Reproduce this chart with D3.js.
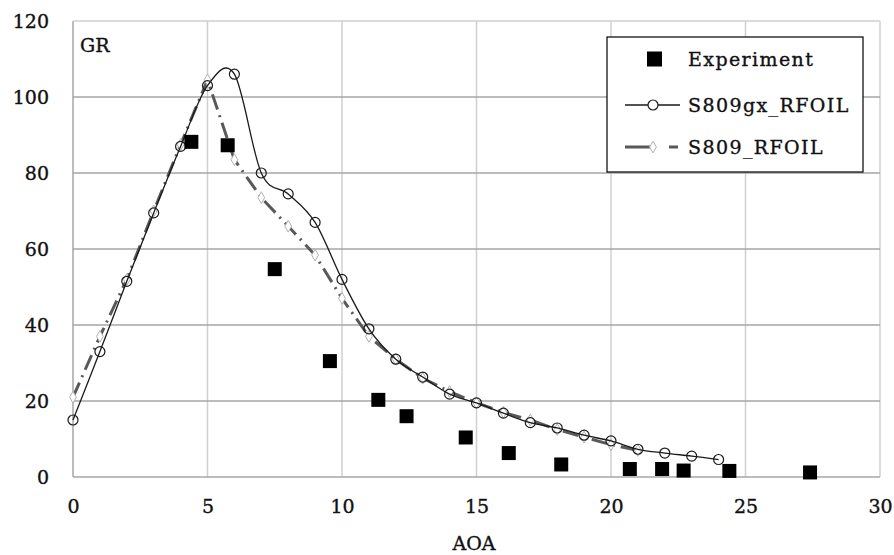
<!DOCTYPE html>
<html>
<head>
<meta charset="utf-8">
<script src="https://cdn.jsdelivr.net/npm/d3@7"></script>
<style>
  body { margin: 0; background: #fff; }
  svg text { font-family: "DejaVu Serif", serif; fill: #111; stroke: #111; stroke-width: 0.35px; }
</style>
</head>
<body>
<div id="chart"></div>
<script>
// data
var gxAoa = [0, 1, 2, 3, 4, 5, 6, 7, 8, 9, 10, 11, 12, 13, 14, 15, 16, 17, 18, 19, 20, 21, 22, 23, 24];
var gxGr = [15, 33, 51.5, 69.5, 87, 103, 106, 80, 74.5, 67, 52, 39, 31, 26.3, 21.8, 19.5, 16.8, 14.3, 12.9, 11, 9.5, 7.3, 6.3, 5.5, 4.6];

var rfAoa = [0, 1, 2, 3, 4, 5, 6, 7, 8, 9, 10, 11, 12, 13, 14, 15, 16, 17, 18, 19, 20, 21];
var rfGr = [21, 37, 52, 70, 87.5, 104.5, 83.5, 73.5, 66, 58.4, 47, 37, 31, 26, 22.5, 19.5, 17, 15, 12.5, 10.5, 8.5, 7];

var expAoa = [4.4, 5.75, 7.5, 9.55, 11.35, 12.4, 14.6, 16.2, 18.15, 20.7, 21.9, 22.7, 24.4, 27.4];
var expGr = [88.2, 87.3, 54.7, 30.5, 20.3, 16, 10.4, 6.3, 3.3, 2.1, 2.1, 1.7, 1.6, 1.2];

var xTicks = [0, 5, 10, 15, 20, 25, 30];
var yTicks = [0, 20, 40, 60, 80, 100, 120];

var legendNames = ["Experiment", "S809gx_RFOIL", "S809_RFOIL"];

var init = function() {
    var width = 894, height = 555;
    var margin = {top: 21, right: 14, bottom: 78, left: 73};

    var svg = d3.select("#chart").append("svg")
        .attr("width", width)
        .attr("height", height);

    var x = d3.scaleLinear().domain([0, 30]).range([margin.left, width - margin.right]);
    var y = d3.scaleLinear().domain([0, 120]).range([height - margin.bottom, margin.top]);

    // grid
    svg.append("g").selectAll("line").data(xTicks).enter().append("line")
        .attr("x1", d => x(d)).attr("x2", d => x(d))
        .attr("y1", y(0)).attr("y2", y(120))
        .attr("stroke", d => d === 0 ? "#a6a6a6" : "#d0d0d0")
        .attr("stroke-width", 1.5);
    svg.append("g").selectAll("line").data(yTicks).enter().append("line")
        .attr("x1", x(0)).attr("x2", x(30))
        .attr("y1", d => y(d)).attr("y2", d => y(d))
        .attr("stroke", d => d === 120 ? "#cfcfcf" : "#a6a6a6")
        .attr("stroke-width", 1.5);

    // axes (labels only)
    var xAxis = svg.append("g")
        .attr("transform", "translate(0," + y(0) + ")")
        .call(d3.axisBottom(x).tickValues(xTicks).tickSize(0).tickPadding(23));
    var yAxis = svg.append("g")
        .attr("transform", "translate(" + x(0) + ",0)")
        .call(d3.axisLeft(y).tickValues(yTicks).tickSize(0).tickPadding(24));
    [xAxis, yAxis].forEach(function(a) {
        a.select(".domain").remove();
        a.selectAll("text").attr("font-family", "DejaVu Serif").attr("font-size", 19).attr("fill", "#111");
    });

    svg.append("text").attr("x", 474).attr("y", 550)
        .attr("text-anchor", "middle").attr("font-size", 19).text("AOA");
    svg.append("text").attr("x", 80).attr("y", 52)
        .attr("font-size", 19).text("GR");

    // S809_RFOIL dash-dot
    var rfLine = d3.line().x((d, i) => x(rfAoa[i])).y(d => y(d));
    svg.append("path").datum(rfGr)
        .attr("d", rfLine)
        .attr("fill", "none")
        .attr("stroke", "#595959")
        .attr("stroke-width", 3)
        .attr("stroke-dasharray", "16,6,2,6");
    svg.append("g").selectAll("path").data(rfGr).enter().append("path")
        .attr("d", d3.symbol().type(d3.symbolDiamond).size(40))
        .attr("transform", (d, i) => "translate(" + x(rfAoa[i]) + "," + y(d) + ")")
        .attr("fill", "#fff").attr("stroke", "#b0b0b0").attr("stroke-width", 1);

    // S809gx_RFOIL smooth
    var gxLine = d3.line().x((d, i) => x(gxAoa[i])).y(d => y(d)).curve(d3.curveCardinal.tension(0));
    svg.append("path").datum(gxGr)
        .attr("d", gxLine)
        .attr("fill", "none")
        .attr("stroke", "#1a1a1a")
        .attr("stroke-width", 1.3);
    svg.append("g").selectAll("circle").data(gxGr).enter().append("circle")
        .attr("cx", (d, i) => x(gxAoa[i])).attr("cy", d => y(d)).attr("r", 5)
        .attr("fill", "none").attr("stroke", "#1a1a1a").attr("stroke-width", 1.2);

    // experiment
    svg.append("g").selectAll("rect").data(expGr).enter().append("rect")
        .attr("x", (d, i) => x(expAoa[i]) - 7).attr("y", d => y(d) - 7)
        .attr("width", 14).attr("height", 14).attr("fill", "#000");

    // legend
    var lg = svg.append("g").attr("transform", "translate(607,37)");
    lg.append("rect").attr("width", 256).attr("height", 135)
        .attr("fill", "#fff").attr("stroke", "#000").attr("stroke-width", 1.2);
    var rows = [22, 68, 110];
    lg.append("rect").attr("x", 40).attr("y", rows[0] - 7.5).attr("width", 15).attr("height", 15).attr("fill", "#000");
    lg.append("line").attr("x1", 18).attr("x2", 73).attr("y1", rows[1]).attr("y2", rows[1])
        .attr("stroke", "#1a1a1a").attr("stroke-width", 1.3);
    lg.append("circle").attr("cx", 46).attr("cy", rows[1]).attr("r", 5)
        .attr("fill", "#fff").attr("stroke", "#1a1a1a").attr("stroke-width", 1.2);
    lg.append("line").attr("x1", 18).attr("x2", 73).attr("y1", rows[2]).attr("y2", rows[2])
        .attr("stroke", "#595959").attr("stroke-width", 3).attr("stroke-dasharray", "25,16,0,3,9");
    lg.append("path").attr("d", d3.symbol().type(d3.symbolDiamond).size(40))
        .attr("transform", "translate(46," + rows[2] + ")")
        .attr("fill", "#fff").attr("stroke", "#b0b0b0");
    lg.selectAll("text.lbl").data(legendNames).enter().append("text")
        .attr("class", "lbl")
        .attr("x", 81).attr("y", (d, i) => rows[i] + 7)
        .attr("font-size", 19).attr("letter-spacing", 1.4).text(d => d);
};
window.onload = init;
</script>
</body>
</html>
